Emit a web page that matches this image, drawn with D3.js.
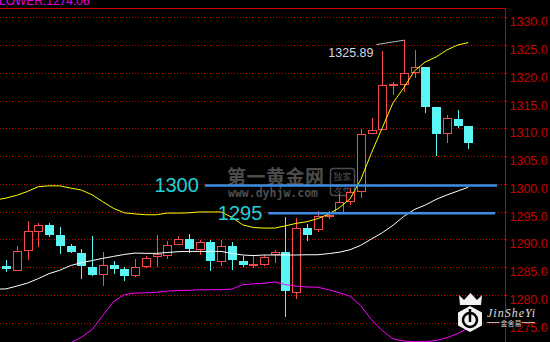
<!DOCTYPE html>
<html>
<head>
<meta charset="utf-8">
<script src="https://cdn.jsdelivr.net/npm/d3@7"></script>
<style>
  body { margin: 0; background: #000; }
  #wrapper svg { display: block; }
</style>
</head>
<body>
<div id="wrapper"></div>
<script>
// candles, oldest to newest
const opens  = [1285.3, 1284.6, 1288.0, 1291.6, 1292.6, 1290.8, 1288.9, 1287.6, 1285.0, 1283.7,
                1285.45, 1284.6, 1283.5, 1285.2, 1286.9, 1287.25, 1289.2, 1290.1, 1288.3, 1289.55,
                1286.05, 1288.9, 1286.1, 1285.5, 1285.6, 1287.35, 1287.7, 1280.55, 1292.05, 1291.9,
                1294.35, 1294.9, 1296.85, 1298.7, 1309.15, 1309.85, 1317.8, 1317.95, 1320.05, 1321.1,
                1313.9, 1309.15, 1311.7, 1310.45];
const highs  = [1286.3, 1288.9, 1293.4, 1293.0, 1293.0, 1292.2, 1289.1, 1288.3, 1290.7, 1287.8,
                1286.2, 1285.0, 1286.5, 1287.1, 1290.8, 1289.65, 1290.55, 1291.0, 1289.95, 1289.95,
                1289.95, 1289.6, 1287.1, 1287.25, 1287.25, 1288.15, 1294.1, 1293.85, 1292.8, 1295.05,
                1295.1, 1298.35, 1299.25, 1309.85, 1311.85, 1324.0, 1318.4, 1325.89, 1324.1, 1321.1,
                1313.9, 1312.45, 1313.35, 1310.45];
const lows   = [1284.2, 1284.4, 1286.3, 1288.6, 1290.5, 1287.3, 1287.6, 1282.9, 1283.35, 1281.7,
                1283.8, 1282.5, 1283.2, 1284.9, 1285.0, 1286.5, 1289.1, 1287.55, 1287.25, 1284.4,
                1285.15, 1284.55, 1285.0, 1284.9, 1285.2, 1285.8, 1276.1, 1279.3, 1289.8, 1291.4,
                1293.7, 1294.85, 1296.25, 1297.45, 1309.0, 1309.7, 1316.0, 1316.6, 1319.0, 1312.75,
                1304.95, 1307.45, 1310.0, 1306.25];
const closes = [1284.6, 1288.0, 1291.5, 1292.6, 1290.8, 1288.9, 1287.7, 1285.2, 1283.65, 1285.4,
                1284.6, 1283.5, 1285.0, 1286.65, 1287.3, 1289.05, 1290.1, 1288.3, 1289.55, 1286.05,
                1288.75, 1286.25, 1285.4, 1285.6, 1286.85, 1287.7, 1280.65, 1292.05, 1290.85, 1294.3,
                1294.45, 1296.7, 1298.55, 1308.95, 1309.75, 1317.8, 1317.9, 1319.95, 1321.0, 1313.9,
                1309.0, 1311.85, 1310.5, 1307.35];

// bollinger bands, starting one bar before the first visible candle
const upperBand = [1297.1, 1297.45, 1297.95, 1298.65, 1299.5, 1299.65, 1299.65, 1299.25, 1298.9, 1298.05, 1296.8,
                   1295.6, 1294.8, 1294.6, 1294.45, 1294.45, 1294.75, 1294.75, 1294.8, 1294.95, 1294.95,
                   1294.95, 1294.0, 1292.65, 1292.15, 1292.05, 1292.05, 1292.45, 1292.9, 1293.2, 1293.75,
                   1294.55, 1295.7, 1297.3, 1300.75, 1305.6, 1310.1, 1314.6, 1317.3, 1320.35, 1321.95,
                   1322.85, 1324.1, 1325.0, 1325.45];
const midBand   = [1281.05, 1281.1, 1281.6, 1282.15, 1282.95, 1283.85, 1284.45, 1285.3, 1285.8, 1286.2, 1286.6,
                   1286.95, 1287.3, 1287.55, 1287.5, 1287.5, 1287.65, 1287.8, 1287.85, 1287.85, 1287.85,
                   1287.85, 1287.5, 1287.2, 1287.1, 1287.2, 1287.2, 1287.2, 1287.2, 1287.25, 1287.25,
                   1287.45, 1287.7, 1288.15, 1288.95, 1290.1, 1291.2, 1292.55, 1294.15, 1295.4, 1296.2,
                   1297.2, 1298.0, 1298.7, 1299.4];
const lowerBand = [1265.0, 1264.75, 1265.25, 1265.65, 1266.4, 1268.05, 1269.25, 1271.35, 1272.4, 1273.75, 1276.3,
                   1278.8, 1280.05, 1280.35, 1280.4, 1280.5, 1280.7, 1280.8, 1280.85, 1280.95, 1280.95,
                   1280.95, 1281.05, 1281.85, 1282.0, 1282.1, 1282.35, 1281.85, 1281.6, 1281.45, 1281.4,
                   1280.95, 1280.4, 1279.8, 1278.1, 1275.55, 1273.6, 1272.1, 1271.7, 1271.6, 1271.6,
                   1271.8, 1272.3, 1273.05, 1274.06];
const bandFirstBar = -1;

const priceTicks = [1275, 1280, 1285, 1290, 1295, 1300, 1305, 1310, 1315, 1320, 1325, 1330];

// drawn support/resistance levels
const levelValues   = [1300, 1295];
const levelLabels   = ["1300", "1295"];
const levelStartBar = [18.5, 24.4];
const levelEndBar   = [45.7, 45.5];

const maxBar = 37;
const titleText = "LOWER:1274.06";

function drawChart() {
  const dimensions = {
    width: 550,
    height: 342,
    plotRight: 505,
    plotTop: 8,
  };

  const wrapper = d3.select("#wrapper")
    .append("svg")
      .attr("width", dimensions.width)
      .attr("height", dimensions.height)
      .style("background", "#000");

  const xScale = d3.scaleLinear()
    .domain([0, opens.length - 1])
    .range([6, 468.25]);

  const yScale = d3.scaleLinear()
    .domain([1271.54, 1331.67])
    .range([dimensions.height, dimensions.plotTop]);

  const crisp = v => Math.round(v) + 0.5;

  wrapper.append("clipPath")
    .attr("id", "plot-clip")
    .append("rect")
      .attr("x", 0)
      .attr("y", dimensions.plotTop)
      .attr("width", dimensions.plotRight)
      .attr("height", dimensions.height - dimensions.plotTop);

  // title (cut off at the top, as in the terminal)
  wrapper.append("text")
    .attr("x", -1)
    .attr("y", 5)
    .attr("fill", "#e600e6")
    .style("font", "12px 'Liberation Sans', Arial, sans-serif")
    .text(titleText);

  // gridlines
  wrapper.append("g")
    .selectAll("line")
    .data(priceTicks)
    .join("line")
      .attr("x1", 0)
      .attr("x2", dimensions.plotRight)
      .attr("y1", d => crisp(yScale(d)))
      .attr("y2", d => crisp(yScale(d)))
      .attr("stroke", "#c80000")
      .attr("stroke-dasharray", "1,2");

  // frame
  wrapper.append("path")
    .attr("d", `M0,${dimensions.plotTop + 0.5}H${dimensions.plotRight + 0.5}V${dimensions.height}`)
    .attr("fill", "none")
    .attr("stroke", "#c80000");

  // axis
  const yAxisGenerator = d3.axisRight(yScale)
    .tickValues(priceTicks)
    .tickFormat(d3.format(".1f"))
    .tickSize(2)
    .tickPadding(2);

  const yAxis = wrapper.append("g")
    .attr("transform", `translate(${dimensions.plotRight + 0.5},0)`)
    .call(yAxisGenerator);
  yAxis.select(".domain").remove();
  yAxis.selectAll("line").attr("stroke", "#c80000");
  yAxis.selectAll("text")
    .attr("y", 4.5)
    .attr("fill", "#c80000")
    .style("font", "12.5px 'Liberation Sans', Arial, sans-serif");

  // watermark
  const mark = wrapper.append("g").attr("opacity", 0.55);
  mark.append("text")
    .attr("x", 227).attr("y", 184)
    .attr("fill", "#8a8a8a")
    .style("font", "bold 19px 'Noto Sans CJK SC', sans-serif")
    .style("letter-spacing", "0.5px")
    .text("第一黄金网");
  mark.append("text")
    .attr("x", 228).attr("y", 197)
    .attr("fill", "#8a8a8a")
    .style("font", "bold 11.5px 'DejaVu Sans Mono', monospace")
    .text("www.dyhjw.com");
  mark.append("rect")
    .attr("x", 330.5).attr("y", 168.5)
    .attr("width", 24).attr("height", 27)
    .attr("rx", 3)
    .attr("fill", "none")
    .attr("stroke", "#8a8a8a")
    .attr("stroke-width", 1.5);
  mark.selectAll(".stamp")
    .data(["独家", "发布"])
    .join("text")
      .attr("x", 342.5)
      .attr("y", (d, i) => 180 + i * 12)
      .attr("text-anchor", "middle")
      .attr("fill", "#8a8a8a")
      .style("font", "9px 'Noto Sans CJK SC', sans-serif")
      .text(d => d);

  const candles = opens.map((open, i) => ({
    i,
    open,
    high: highs[i],
    low: lows[i],
    close: closes[i],
  }));

  const up = d => d.close >= d.open;

  // candles
  const candleGroup = wrapper.append("g").attr("shape-rendering", "crispEdges");
  const candle = candleGroup.selectAll("g")
    .data(candles)
    .join("g");

  candle.append("line")
    .attr("x1", d => crisp(xScale(d.i)))
    .attr("x2", d => crisp(xScale(d.i)))
    .attr("y1", d => yScale(d.high))
    .attr("y2", d => yScale(d.low))
    .attr("stroke", d => up(d) ? "#f84c4c" : "#5af5f5");

  candle.filter(d => !up(d)).append("rect")
    .attr("x", d => Math.round(xScale(d.i)) - 4)
    .attr("width", 9)
    .attr("y", d => yScale(d.open))
    .attr("height", d => Math.max(1, yScale(d.close) - yScale(d.open)))
    .attr("fill", "#5af5f5");

  candle.filter(d => up(d)).append("rect")
    .attr("x", d => Math.round(xScale(d.i)) - 3.5)
    .attr("width", 8)
    .attr("y", d => crisp(yScale(d.close)))
    .attr("height", d => Math.max(0, Math.round(yScale(d.open) - yScale(d.close))))
    .attr("fill", "#000")
    .attr("stroke", "#f84c4c");

  // bands
  const bandLine = values => d3.line()
    .x((d, i) => xScale(i + bandFirstBar))
    .y(d => yScale(d))(values);

  const bands = wrapper.append("g").attr("clip-path", "url(#plot-clip)");
  [[upperBand, "#ffff00"], [midBand, "#ffffff"], [lowerBand, "#ff00ff"]].forEach(([values, color]) => {
    bands.append("path")
      .attr("d", bandLine(values))
      .attr("fill", "none")
      .attr("stroke", color)
      .attr("stroke-width", 1);
  });

  // level lines
  const levels = levelValues.map((value, i) => ({
    value,
    label: levelLabels[i],
    from: levelStartBar[i],
    to: levelEndBar[i],
  }));

  wrapper.append("g")
    .selectAll("line")
    .data(levels)
    .join("line")
      .attr("x1", d => xScale(d.from))
      .attr("x2", d => xScale(d.to))
      .attr("y1", d => yScale(d.value) + 1.5)
      .attr("y2", d => yScale(d.value) + 1.5)
      .attr("stroke", "#3b8ee3")
      .attr("stroke-width", 2.5);

  wrapper.append("g")
    .selectAll("text")
    .data(levels)
    .join("text")
      .attr("x", d => xScale(d.from) - 6)
      .attr("y", d => yScale(d.value) + 8.5)
      .attr("text-anchor", "end")
      .attr("fill", "#22cfd6")
      .style("font", "20px 'Liberation Sans', Arial, sans-serif")
      .text(d => d.label);

  // highest price marker
  const top = candles[maxBar];
  const topX = crisp(xScale(top.i));
  const topY = yScale(top.high);
  wrapper.append("line")
    .attr("x1", topX - 28)
    .attr("y1", topY + 4.5)
    .attr("x2", topX)
    .attr("y2", topY)
    .attr("stroke", "#b8b8b8");
  wrapper.append("text")
    .attr("x", topX - 31)
    .attr("y", topY + 17)
    .attr("text-anchor", "end")
    .attr("fill", "#d0d8e8")
    .style("font", "12.5px 'Liberation Sans', Arial, sans-serif")
    .text(d3.format(".2f")(top.high));

  // logo
  const logo = wrapper.append("g").attr("opacity", 0.95);
  logo.append("polygon")
    .attr("points", "459,295 464,300 470.5,293 477,300 482,295 481,305 460,305")
    .attr("fill", "#fff");
  logo.append("polygon")
    .attr("points", "470,306 482,312.5 482,325.5 470,332 458,325.5 458,312.5")
    .attr("fill", "#fff");
  logo.append("circle")
    .attr("cx", 470).attr("cy", 320).attr("r", 7)
    .attr("fill", "none")
    .attr("stroke", "#000")
    .attr("stroke-width", 2.5);
  logo.append("line")
    .attr("x1", 470).attr("x2", 470)
    .attr("y1", 309).attr("y2", 322)
    .attr("stroke", "#000")
    .attr("stroke-width", 2.5);
  logo.append("text")
    .attr("x", 487).attr("y", 317)
    .attr("fill", "#e8e8e8")
    .style("font", "italic 12px 'Liberation Serif', serif")
    .style("letter-spacing", "1px")
    .text("JinSheYi");
  logo.append("line")
    .attr("x1", 487).attr("x2", 535)
    .attr("y1", 322.5).attr("y2", 322.5)
    .attr("stroke", "#bbb");
  logo.append("text")
    .attr("x", 511).attr("y", 326)
    .attr("text-anchor", "middle")
    .attr("fill", "#ddd")
    .attr("stroke", "#000")
    .attr("stroke-width", 2)
    .attr("paint-order", "stroke")
    .style("font", "7px 'Noto Sans CJK SC', sans-serif")
    .text("金舍易");
}

drawChart();
</script>
</body>
</html>
